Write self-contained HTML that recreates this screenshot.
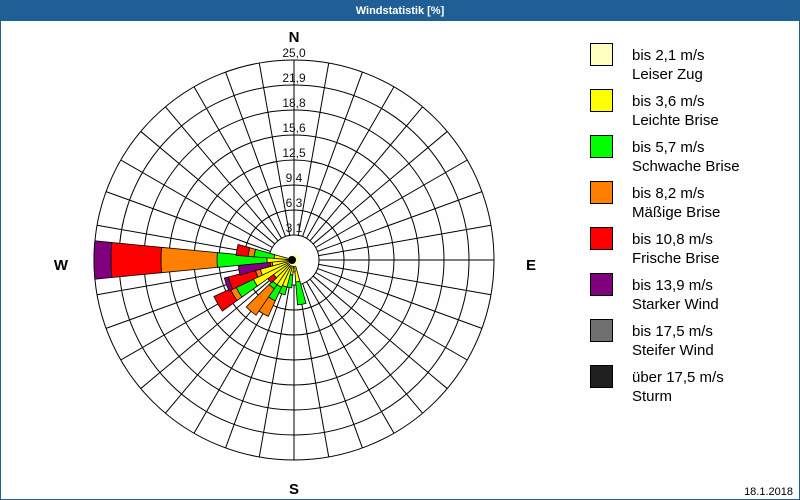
<!DOCTYPE html>
<html><head><meta charset="utf-8"><style>
html,body{margin:0;padding:0;background:#fff}
#w{position:relative;width:798px;height:498px;border:1px solid #1f5f96;background:#fdfefd;overflow:hidden;font-family:"Liberation Sans",sans-serif}
#t{position:absolute;left:0;top:0;width:798px;height:20px;background:#1f5f96;color:#fff;font-weight:bold;font-size:11px;text-align:center;line-height:20px}
svg{position:absolute;left:-1px;top:-1px}
</style></head><body><div id="w"><div id="t">Windstatistik [%]</div>
<svg id="s" width="800" height="500" xmlns="http://www.w3.org/2000/svg" font-family="Liberation Sans, sans-serif"></svg></div>
<script>
var s=document.getElementById('s'),cx=294,cy=260,h='';
var C=['#ffffc0','#ffff00','#00ff00','#ff8000','#ff0000','#800080','#707070','#202020'];
for(var k=1;k<=8;k++)h+='<circle cx="'+cx+'" cy="'+cy+'" r="'+(25*k)+'" fill="'+(k==1?'#fff':'none')+'" stroke="#000" stroke-width="1"/>';
for(var a=0;a<360;a+=10){var r=a*Math.PI/180,sx=Math.sin(r),sy=-Math.cos(r);
h+='<line x1="'+(cx+25*sx)+'" y1="'+(cy+25*sy)+'" x2="'+(cx+200*sx)+'" y2="'+(cy+200*sy)+'" stroke="#000" stroke-width="1"/>';}
var D={270:[3,27,77,133,183,200],280:[3,20,40,46,58],260:[3,22,22,24,24,56],250:[3,35,35,40,68,72],240:[3,45,64,70,88],230:[3,25,25,25,32],220:[3,30,35,67],210:[3,30,45,62],200:[3,28,36],190:[3,15,28],180:[3,12],170:[3,22,45]};
function wedge(ang,r0,r1,col){var a1=(ang-5.5)*Math.PI/180,a2=(ang+5.5)*Math.PI/180;
function p(r,a){return (cx+r*Math.sin(a)).toFixed(1)+','+(cy-r*Math.cos(a)).toFixed(1)}
return '<path d="M'+p(r0,a1)+' L'+p(r1,a1)+' A'+r1+' '+r1+' 0 0 1 '+p(r1,a2)+' L'+p(r0,a2)+(r0>0?' A'+r0+' '+r0+' 0 0 0 '+p(r0,a1):'')+' Z" fill="'+col+'" stroke="#000" stroke-width="0.8"/>';}
for(var d in D){var v=D[d],prev=0;for(var i=0;i<v.length;i++){if(v[i]>prev)h+=wedge(+d,prev,v[i],C[i]);prev=v[i];}}
h+='<circle cx="'+cx+'" cy="'+cy+'" r="6" fill="#ffffc0"/><circle cx="'+(cx-2)+'" cy="'+cy+'" r="4" fill="#000"/>';
var L=['3,1','6,3','9,4','12,5','15,6','18,8','21,9','25,0'];
for(var k=0;k<8;k++)h+='<text x="'+cx+'" y="'+(cy-25*(k+1)-3)+'" font-size="12" text-anchor="middle" fill="#111">'+L[k]+'</text>';
h+='<text x="'+cx+'" y="42" font-size="15" font-weight="bold" text-anchor="middle">N</text><text x="'+cx+'" y="494" font-size="15" font-weight="bold" text-anchor="middle">S</text><text x="61" y="270" font-size="15" font-weight="bold" text-anchor="middle">W</text><text x="531" y="270" font-size="15" font-weight="bold" text-anchor="middle">E</text>';
var T=[['bis 2,1 m/s','Leiser Zug'],['bis 3,6 m/s','Leichte Brise'],['bis 5,7 m/s','Schwache Brise'],['bis 8,2 m/s','Mäßige Brise'],['bis 10,8 m/s','Frische Brise'],['bis 13,9 m/s','Starker Wind'],['bis 17,5 m/s','Steifer Wind'],['über 17,5 m/s','Sturm']];
for(var i=0;i<8;i++){var y=43+46*i;h+='<rect x="590.5" y="'+(y+0.5)+'" width="22" height="22" fill="'+C[i]+'" stroke="#000"/><text x="632" y="'+(y+17)+'" font-size="15">'+T[i][0]+'</text><text x="632" y="'+(y+36)+'" font-size="15">'+T[i][1]+'</text>';}
h+='<text x="793" y="495" font-size="11" text-anchor="end">18.1.2018</text>';
s.innerHTML=h;
</script></body></html>
